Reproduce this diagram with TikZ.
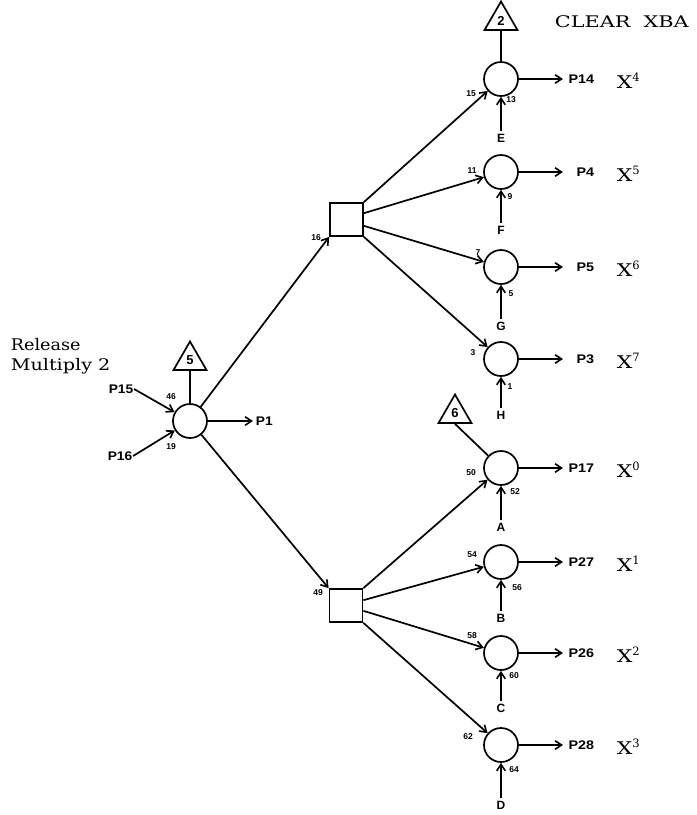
\documentclass[tikz,border=0pt]{standalone}
\usepackage{fontspec}
\usepackage{graphicx}
\setsansfont{Liberation Sans}
\newfontfamily\cent{DejaVu Serif}
\usetikzlibrary{arrows.meta,shapes.geometric}
\newcommand\hstretch[2]{\scalebox{#1}[1]{#2}}
\begin{document}
\begin{tikzpicture}[x=1pt,y=-1pt,
  line width=1.7pt,
  ar/.style={-{Straight Barb[length=6.5pt,width=8.5pt,line width=1.6pt]}},
  gate/.style={circle,draw,minimum size=34pt,inner sep=0pt},
  box/.style={rectangle,draw,minimum size=33pt,inner sep=0pt},
  tri/.style={regular polygon,regular polygon sides=3,draw,minimum size=38pt,inner sep=0pt,font=\sffamily\bfseries\fontsize{13}{13}\selectfont},
  plab/.style={font=\sffamily\bfseries\fontsize{12.5}{14}\selectfont,inner sep=0pt},
  num/.style={font=\sffamily\bfseries\fontsize{8.5}{9}\selectfont,inner sep=0pt},
  let/.style={font=\sffamily\bfseries\fontsize{12}{12}\selectfont,inner sep=2pt},
  xlab/.style={font=\cent\fontsize{17.5}{20}\selectfont,anchor=west,inner sep=0pt},
  serif/.style={font=\cent\fontsize{16}{17}\selectfont,inner sep=0pt,anchor=base west}
]
\useasboundingbox (0,0) rectangle (697,815);

% left part
\node[gate] (L) at (190,421) {};
\node[tri] (T5) at (190,360.5) {5};
\draw (T5.south) -- (L);
\node[serif] (rel) at (10,350) {\hstretch{1.1}{Release}};
\node[serif] (mul) at (10,370) {\hstretch{1.2}{Multiply 2}};
\node[plab] (P15) at (121,389) {\hstretch{1.1}{P15}};
\node[plab] (P16) at (120,456) {\hstretch{1.1}{P16}};
\draw[ar] (P15.east) -- (L);
\draw[ar] (P16.east) -- (L);
\node[num] (n46) at (171,397) {46};
\node[num] (n19) at (171,447) {19};
\coordinate (o0) at (253,421);
\draw[ar] (L) -- (o0);
\node[plab,anchor=west] (P1) at (255,421) {\hstretch{1.1}{P1}};

% squares
\node[box] (S1) at (346.5,219.5) {};
\node[box] (S2) at (346,605.5) {};
\draw[ar] (L) -- (S1.south west);
\draw[ar] (L) -- (S2.north west);
\node[num] (n16) at (316,238) {16};
\node[num] (n49) at (318,593) {49};

% right gates
\foreach \i/\y in {1/79,2/172,3/267,4/359,5/468,6/562,7/653,8/745}{
  \node[gate] (C\i) at (501,\y) {};
  \coordinate (o\i) at (563,\y);
  \draw[ar] (C\i) -- (o\i);
}
\foreach \i/\t/\y in {1/P14/79,2/P4/172,3/P5/267,4/P3/359,5/P17/468,6/P27/562,7/P26/653,8/P28/745}{
  \node[plab,anchor=east] (p\i) at (595,\y) {\hstretch{1.15}{\t}};
}
\foreach \i/\e/\y in {1/4/81,2/5/174,3/6/269,4/7/361,5/0/470,6/1/564,7/2/655,8/3/747}{
  \node[xlab] (x\i) at (616,\y) {\hstretch{1.25}{X}\raisebox{7pt}{\fontsize{11.5}{11}\selectfont\e}};
}
\foreach \i/\t/\y in {1/E/138,2/F/230,3/G/326,4/H/415,5/A/527,6/B/618,7/C/708,8/D/805}{
  \node[let] (l\i) at (501,\y) {\t};
  \draw[ar] (l\i) -- (C\i);
}

% connections from squares
\draw[ar] (S1.north east) -- (C1);
\draw[ar] (S1.20) -- (C2);
\draw[ar] (S1.-20) -- (C3);
\draw[ar] (S1.south east) -- (C4);
\draw[ar] (S2.north east) -- (C5);
\draw[ar] (S2.17) -- (C6);
\draw[ar] (S2.-17) -- (C7);
\draw[ar] (S2.south east) -- (C8);

% triangles on gates
\node[tri] (T2) at (501,20.5) {2};
\draw (T2.south) -- (C1);
\node[tri] (T6) at (455,413.5) {6};
\draw (T6.south) -- (C5);

% small numbers
\node[num] (a1) at (471,94) {15};
\node[num] (b1) at (511,100) {13};
\node[num] (a2) at (472,171) {11};
\node[num] (b2) at (510,197) {9};
\node[num] (a3) at (478,253) {7};
\node[num] (b3) at (511,294) {5};
\node[num] (a4) at (473,353) {3};
\node[num] (b4) at (510,387) {1};
\node[num] (a5) at (471,473) {50};
\node[num] (b5) at (515,492) {52};
\node[num] (a6) at (472,555) {54};
\node[num] (b6) at (517,588) {56};
\node[num] (a7) at (472,636) {58};
\node[num] (b7) at (514,676) {60};
\node[num] (a8) at (468,737) {62};
\node[num] (b8) at (514,770) {64};

\node[serif] (clr) at (554,27.3) {\hstretch{1.3}{CLEAR\ \ XBA}};
\end{tikzpicture}
\end{document}
